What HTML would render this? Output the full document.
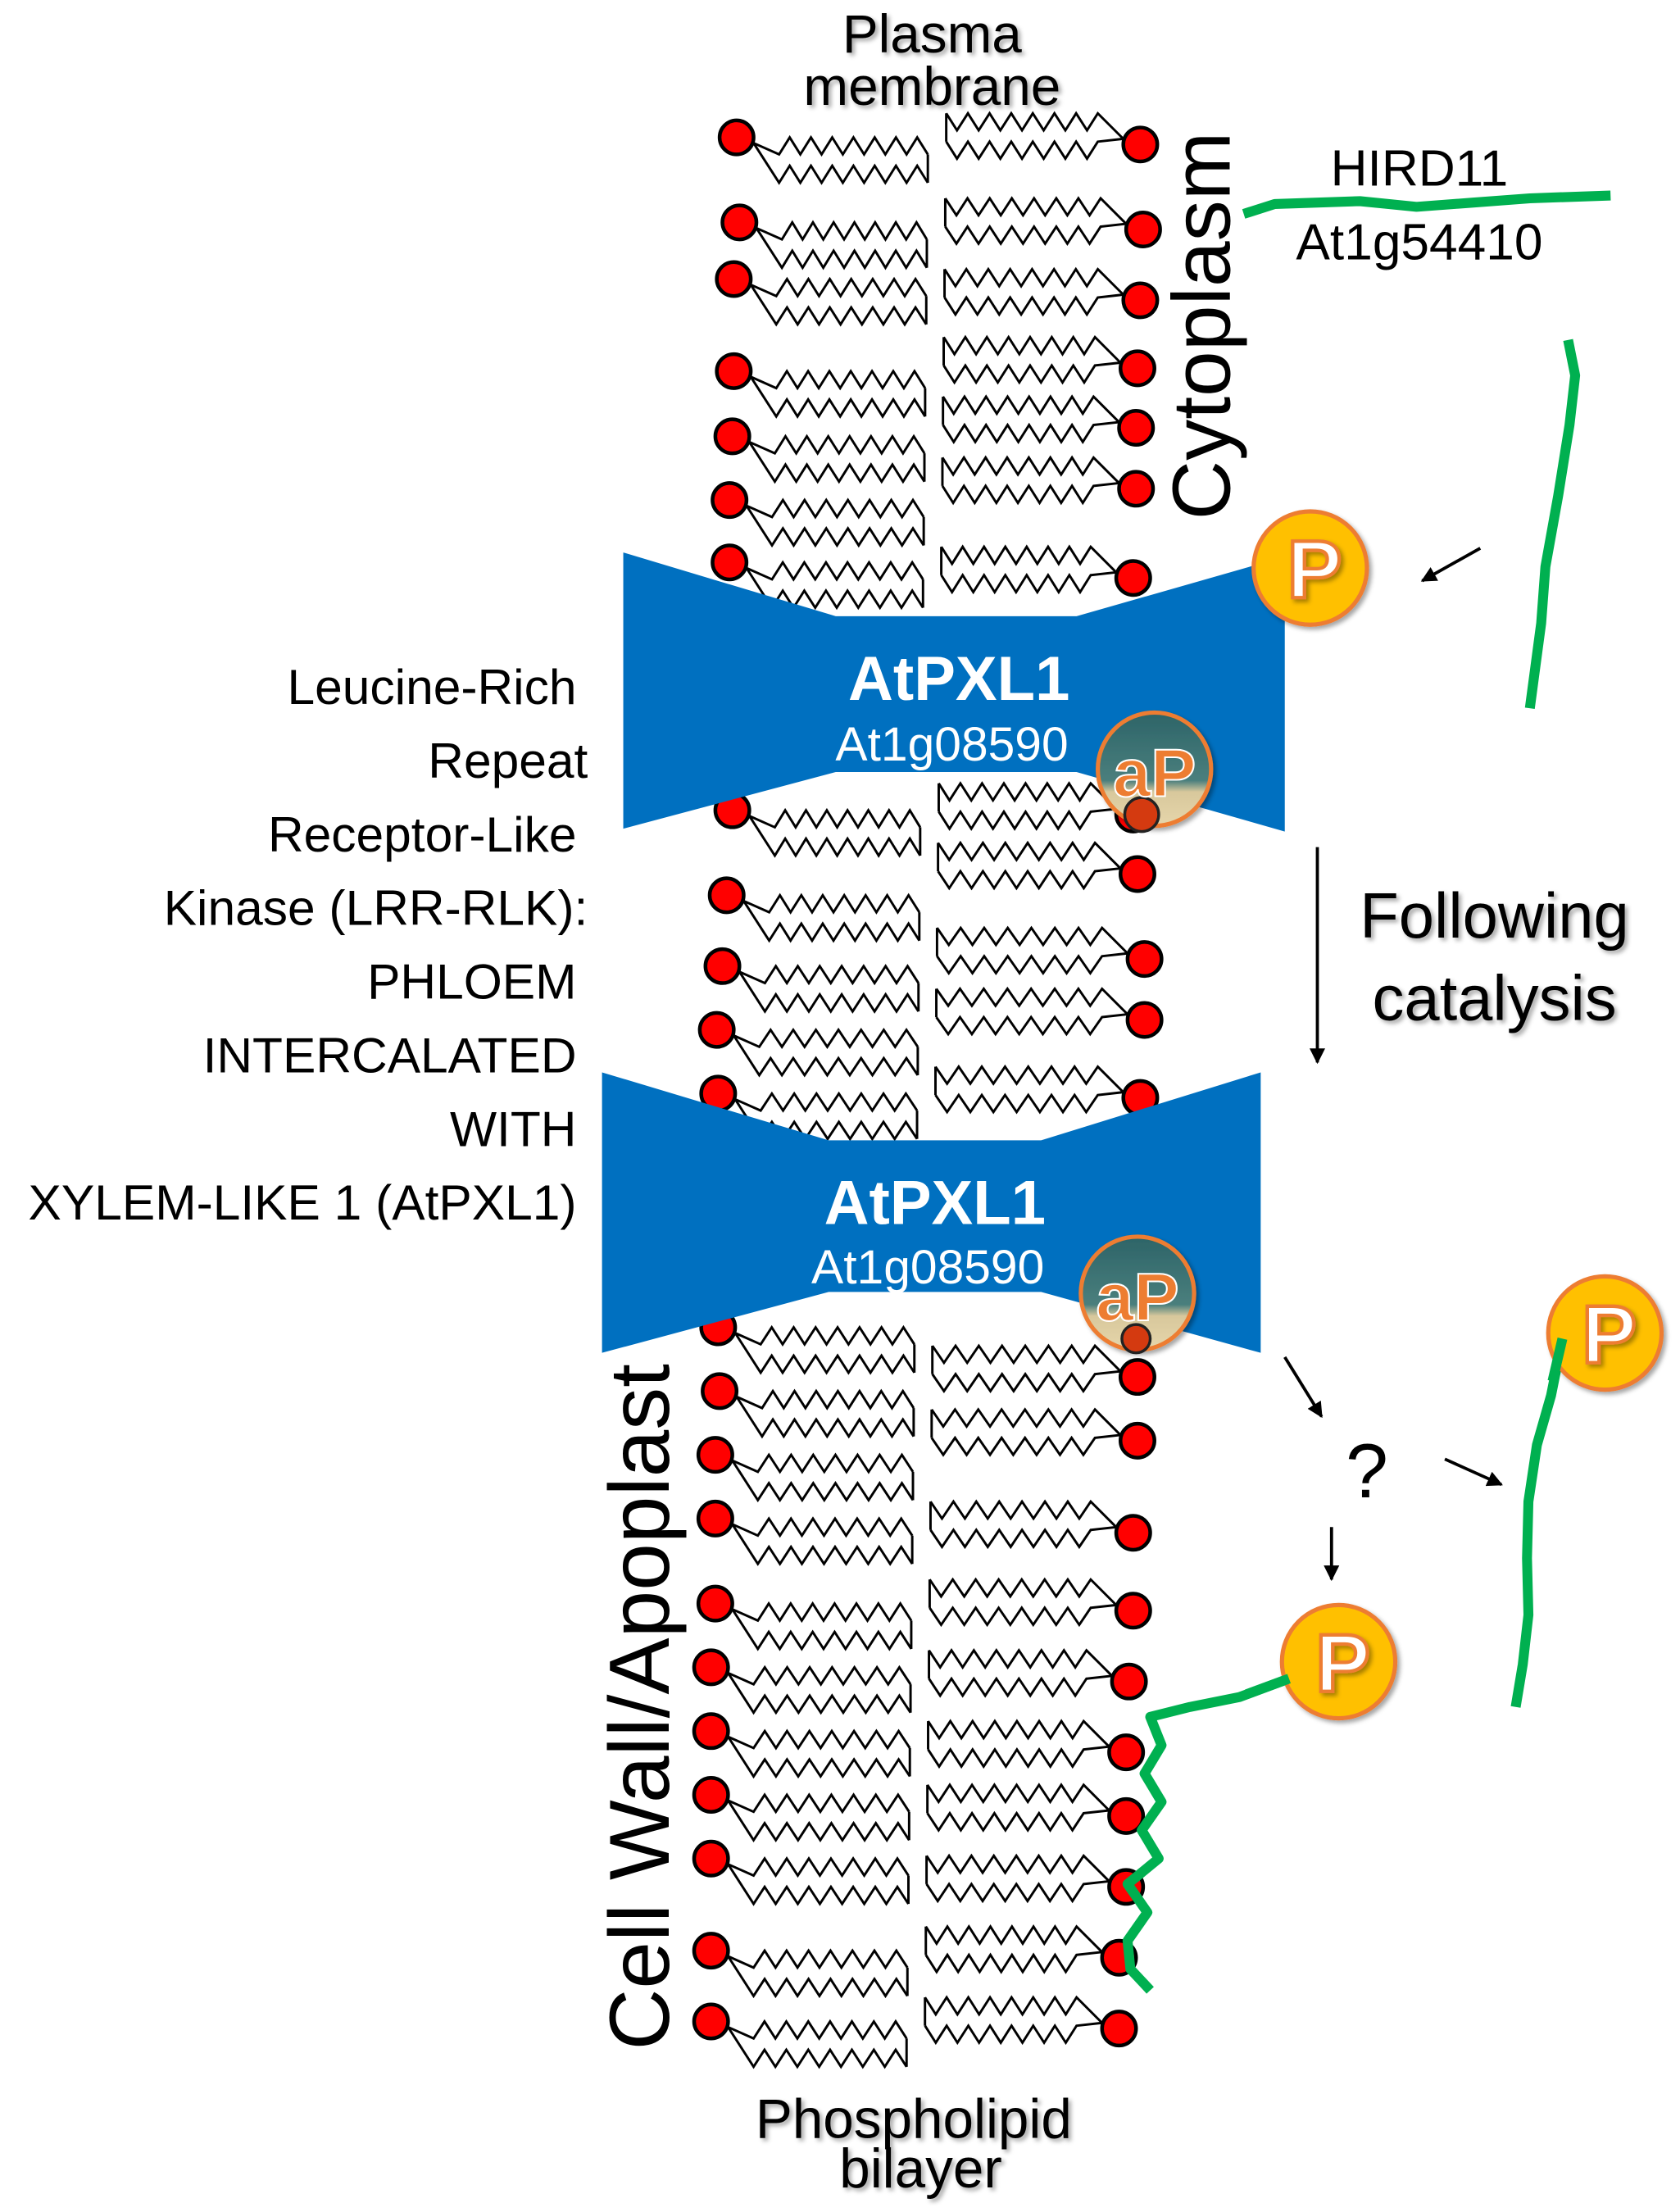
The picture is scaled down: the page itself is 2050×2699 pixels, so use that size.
<!DOCTYPE html>
<html><head><meta charset="utf-8"><style>
html,body{margin:0;padding:0;background:#fff}
svg{display:block}
text{font-family:"Liberation Sans",sans-serif}
</style></head><body>
<svg id="s" width="2050" height="2699" viewBox="0 0 1186 1561.5" xmlns="http://www.w3.org/2000/svg">
<defs>
<linearGradient id="ap" x1="0" y1="0" x2="0" y2="1">
<stop offset="0" stop-color="#2d6468"/><stop offset="0.6" stop-color="#4a7f7d"/><stop offset="0.7" stop-color="#d8c89c"/><stop offset="1" stop-color="#e6d6ab"/></linearGradient>
<filter id="sh" x="-20%" y="-20%" width="140%" height="140%"><feDropShadow dx="2" dy="2" stdDeviation="1.5" flood-color="#000" flood-opacity="0.35"/></filter>
<marker id="ah" viewBox="0 0 10 10" refX="9" refY="5" markerWidth="5" markerHeight="5" orient="auto"><path d="M0,0 L10,5 L0,10 z" fill="#000"/></marker>
</defs>
<g id="lip" fill="none" stroke="#000" stroke-width="1.7"></g>
<g id="heads" fill="#f00" stroke="#000" stroke-width="2.6"></g>

<polygon points="440,390 590,435 760,435 907,393 907,587 760,545 590,545 440,585" fill="#0070c0"/>
<polygon points="425,757 585,805 735,805 890,757 890,955 735,912 585,912 425,955" fill="#0070c0"/>

<text x="677" y="494" font-size="44" font-weight="bold" fill="#fff" text-anchor="middle">AtPXL1</text>
<text x="672" y="537" font-size="34" fill="#fff" text-anchor="middle">At1g08590</text>
<text x="660" y="864" font-size="44" font-weight="bold" fill="#fff" text-anchor="middle">AtPXL1</text>
<text x="655" y="906" font-size="34" fill="#fff" text-anchor="middle">At1g08590</text>

<g filter="url(#sh)">
<circle cx="815" cy="543" r="40" fill="url(#ap)" stroke="#ed7d31" stroke-width="3"/>
<circle cx="803" cy="913" r="40" fill="url(#ap)" stroke="#ed7d31" stroke-width="3"/>
</g>
<circle cx="806" cy="575" r="12" fill="#d43a10" stroke="#222" stroke-width="2"/>
<circle cx="802" cy="945" r="10" fill="#d43a10" stroke="#222" stroke-width="2"/>
<text x="815" y="562" font-size="48" font-weight="bold" fill="#ed7d31" stroke="#fff" stroke-width="1.2" text-anchor="middle">aP</text>
<text x="803" y="932" font-size="48" font-weight="bold" fill="#ed7d31" stroke="#fff" stroke-width="1.2" text-anchor="middle">aP</text>

<g fill="none" stroke="#00b050" stroke-width="7" stroke-linejoin="round" stroke-linecap="butt">
<polyline points="878,151 900,144 960,142 1000,146 1040,143 1080,140 1137,138"/>
<polyline points="1107,240 1112,265 1108,300 1100,350 1091,400 1088,440 1084,470 1080,500"/>
<polyline points="1103,945 1095,985 1085,1020 1079,1060 1078,1100 1079,1140 1075,1175 1070,1205"/>
<polyline points="910,1185 875,1198 840,1205 812,1212 820,1232 808,1252 820,1272 806,1292 818,1312 796,1330 810,1350 796,1370 798,1390 812,1405"/>
</g>

<g filter="url(#sh)">
<circle cx="925" cy="401" r="40" fill="#ffc000" stroke="#ed7d31" stroke-width="3"/>
<circle cx="1133" cy="941" r="40" fill="#ffc000" stroke="#ed7d31" stroke-width="3"/>
<circle cx="945" cy="1173" r="40" fill="#ffc000" stroke="#ed7d31" stroke-width="3"/>
</g>
<polyline points="1103,945 1096,975" fill="none" stroke="#00b050" stroke-width="7"/>
<g font-size="58" font-weight="bold" fill="#fff" stroke="#ed7d31" stroke-width="2.5" text-anchor="middle" filter="url(#sh)">
<text x="928" y="422">P</text><text x="1136" y="962">P</text><text x="948" y="1194">P</text>
</g>
<polyline points="910,1185 880,1196" fill="none" stroke="#00b050" stroke-width="7"/>

<g stroke="#000" stroke-width="2.2" marker-end="url(#ah)">
<line x1="1045" y1="387" x2="1004" y2="410"/>
<line x1="930" y1="598" x2="930" y2="750"/>
<line x1="907" y1="958" x2="933" y2="1000"/>
<line x1="940" y1="1078" x2="940" y2="1115"/>
<line x1="1020" y1="1030" x2="1060" y2="1048"/>
</g>
<text x="965" y="1057" font-size="54" text-anchor="middle" fill="#000">?</text>

<g filter="url(#sh)" fill="#000" text-anchor="middle">
<text x="658" y="37" font-size="38">Plasma</text>
<text x="658" y="74" font-size="38">membrane</text>
<text x="1055" y="662" font-size="45">Following</text>
<text x="1055" y="720" font-size="45">catalysis</text>
<text x="645" y="1509" font-size="39">Phospholipid</text>
<text x="650" y="1544" font-size="39">bilayer</text>
</g>
<text x="1002" y="131" font-size="36" text-anchor="middle">HIRD11</text>
<text x="1002" y="183" font-size="36" text-anchor="middle">At1g54410</text>
<text transform="translate(868,230) rotate(-90)" font-size="58" text-anchor="middle">Cytoplasm</text>
<text transform="translate(472,1205) rotate(-90)" font-size="60" text-anchor="middle">Cell Wall/Apoplast</text>

<g font-size="35" text-anchor="end" fill="#000">
<text x="407" y="497">Leucine-Rich</text>
<text x="415" y="549">Repeat</text>
<text x="407" y="601">Receptor-Like</text>
<text x="415" y="653">Kinase (LRR-RLK):</text>
<text x="407" y="705">PHLOEM</text>
<text x="407" y="757">INTERCALATED</text>
<text x="407" y="809">WITH</text>
<text x="407" y="861">XYLEM-LIKE 1 (AtPXL1)</text>
</g>
</svg>
<script>
(function(){
var ns="http://www.w3.org/2000/svg";
var lip=document.getElementById("lip"),heads=document.getElementById("heads");
var L=[[520,97],[522,157],[518,197],[518,262],[517,308],[515,353],[515,397],[517,572],[513,632],[510,682],[506,727],[507,772],[507,937],[508,982],[505,1027],[505,1072],[505,1132],[502,1177],[502,1222],[502,1267],[502,1312],[502,1377],[502,1427]];
var R=[[805,102],[807,162],[805,212],[803,260],[802,302],[802,345],[800,408],[800,575],[803,617],[808,677],[808,720],[805,775],[803,972],[803,1017],[800,1082],[800,1137],[797,1187],[795,1237],[795,1282],[795,1332],[790,1382],[790,1432]];
function zig(x0,x1,y,amp){var p=[],n=7,dx=(x1-x0)/(n*2),i;for(i=0;i<=n*2;i++){p.push((x0+dx*i).toFixed(1)+","+(y+(i%2?-amp:0)).toFixed(1));}return p;}
function add(pts){var e=document.createElementNS(ns,"polyline");e.setAttribute("points",pts.join(" "));lip.appendChild(e);}
L.forEach(function(h){var x=h[0],y=h[1];var xe=655-(y-97)/1330*15;
 var a=zig(x+30,xe,y+12,12),b=zig(x+30,xe,y+32,12);
 add([(x+12)+","+(y+4),a[0]].concat(a));
 add([(x+12)+","+(y+4)].concat(b));
 add([a[a.length-1],b[b.length-1]]);
 var c=document.createElementNS(ns,"circle");c.setAttribute("cx",x);c.setAttribute("cy",y);c.setAttribute("r",12);heads.appendChild(c);});
R.forEach(function(h){var x=h[0],y=h[1];var xs=668-(y-102)/1330*15;
 var a=zig(xs,x-30,y-22,-12),b=zig(xs,x-30,y-2,-12);
 add(a.concat([(x-12)+","+(y-4)]));
 add(b.concat([(x-12)+","+(y-4)]));
 add([a[0],b[0]]);
 var c=document.createElementNS(ns,"circle");c.setAttribute("cx",x);c.setAttribute("cy",y);c.setAttribute("r",12);heads.appendChild(c);});
})();
</script>
</body></html>
